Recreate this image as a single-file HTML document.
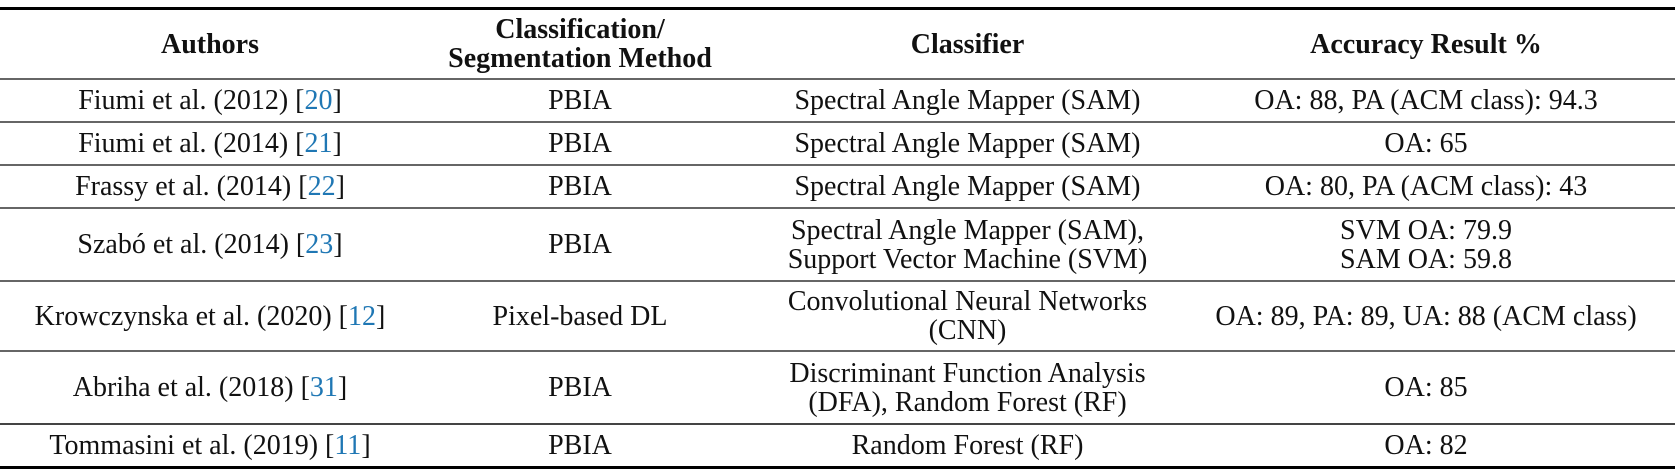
<!DOCTYPE html>
<html><head><style>
body{margin:0;width:1675px;height:470px;background:#fff;position:relative;overflow:hidden;font-family:"Liberation Serif",serif;font-size:28px;color:#111}
.r{position:absolute;left:0;width:1675px;background:#000}
.c{position:absolute;text-align:center;line-height:29px;display:flex;align-items:center;justify-content:center;white-space:nowrap}
.b{font-weight:bold}
a{color:#1f77b4;text-decoration:none}
</style></head><body>
<div class="r" style="top:7px;height:3px"></div>
<div class="r" style="top:78px;height:2px;background:#666"></div>
<div class="r" style="top:121px;height:2px;background:#666"></div>
<div class="r" style="top:164px;height:2px;background:#666"></div>
<div class="r" style="top:207px;height:2px;background:#666"></div>
<div class="r" style="top:280px;height:2px;background:#666"></div>
<div class="r" style="top:350px;height:2px;background:#666"></div>
<div class="r" style="top:423px;height:2px;background:#444"></div>
<div class="r" style="top:466px;height:3px"></div>
<!-- header -->
<div class="c b" style="left:0;width:420px;top:10px;height:68px">Authors</div>
<div class="c b" style="left:410px;width:340px;top:10px;height:68px">Classification/<br>Segmentation Method</div>
<div class="c b" style="left:740px;width:455px;top:10px;height:68px">Classifier</div>
<div class="c b" style="left:1235px;width:382px;top:10px;height:68px">Accuracy Result %</div>
<!-- row1 -->
<div class="c" style="left:0;width:420px;top:80px;height:41px">Fiumi et al. (2012) [<a>20</a>]</div>
<div class="c" style="left:420px;width:320px;top:80px;height:41px">PBIA</div>
<div class="c" style="left:740px;width:455px;top:80px;height:41px">Spectral Angle Mapper (SAM)</div>
<div class="c" style="left:1235px;width:382px;top:80px;height:41px">OA: 88, PA (ACM class): 94.3</div>
<!-- row2 -->
<div class="c" style="left:0;width:420px;top:123px;height:41px">Fiumi et al. (2014) [<a>21</a>]</div>
<div class="c" style="left:420px;width:320px;top:123px;height:41px">PBIA</div>
<div class="c" style="left:740px;width:455px;top:123px;height:41px">Spectral Angle Mapper (SAM)</div>
<div class="c" style="left:1235px;width:382px;top:123px;height:41px">OA: 65</div>
<!-- row3 -->
<div class="c" style="left:0;width:420px;top:166px;height:41px">Frassy et al. (2014) [<a>22</a>]</div>
<div class="c" style="left:420px;width:320px;top:166px;height:41px">PBIA</div>
<div class="c" style="left:740px;width:455px;top:166px;height:41px">Spectral Angle Mapper (SAM)</div>
<div class="c" style="left:1235px;width:382px;top:166px;height:41px">OA: 80, PA (ACM class): 43</div>
<!-- row4 -->
<div class="c" style="left:0;width:420px;top:209px;height:71px">Szabó et al. (2014) [<a>23</a>]</div>
<div class="c" style="left:420px;width:320px;top:209px;height:71px">PBIA</div>
<div class="c" style="left:740px;width:455px;top:209px;height:71px">Spectral Angle Mapper (SAM),<br>Support Vector Machine (SVM)</div>
<div class="c" style="left:1235px;width:382px;top:209px;height:71px">SVM OA: 79.9<br>SAM OA: 59.8</div>
<!-- row5 -->
<div class="c" style="left:0;width:420px;top:282px;height:68px">Krowczynska et al. (2020) [<a>12</a>]</div>
<div class="c" style="left:420px;width:320px;top:282px;height:68px">Pixel-based DL</div>
<div class="c" style="left:740px;width:455px;top:282px;height:68px">Convolutional Neural Networks<br>(CNN)</div>
<div class="c" style="left:1200px;width:452px;top:282px;height:68px">OA: 89, PA: 89, UA: 88 (ACM class)</div>
<!-- row6 -->
<div class="c" style="left:0;width:420px;top:352px;height:71px">Abriha et al. (2018) [<a>31</a>]</div>
<div class="c" style="left:420px;width:320px;top:352px;height:71px">PBIA</div>
<div class="c" style="left:740px;width:455px;top:352px;height:71px">Discriminant Function Analysis<br>(DFA), Random Forest (RF)</div>
<div class="c" style="left:1235px;width:382px;top:352px;height:71px">OA: 85</div>
<!-- row7 -->
<div class="c" style="left:0;width:420px;top:425px;height:41px">Tommasini et al. (2019) [<a>11</a>]</div>
<div class="c" style="left:420px;width:320px;top:425px;height:41px">PBIA</div>
<div class="c" style="left:740px;width:455px;top:425px;height:41px">Random Forest (RF)</div>
<div class="c" style="left:1235px;width:382px;top:425px;height:41px">OA: 82</div>
</body></html>
